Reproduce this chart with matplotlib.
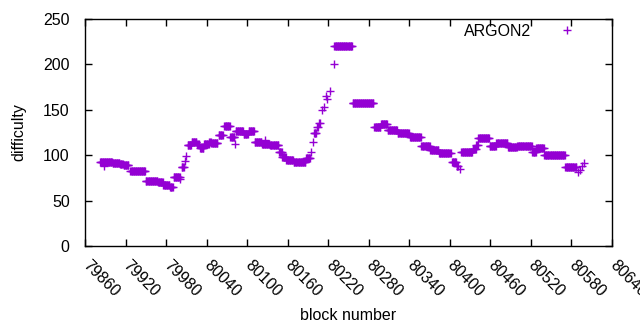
import numpy as np
import matplotlib
matplotlib.use("Agg")
import matplotlib.pyplot as plt

plt.rcParams['font.family'] = ['Liberation Sans', 'DejaVu Sans']
plt.rcParams['font.size'] = 11.5

# runs of blocks sharing one difficulty value
run_start = [79882, 79888, 79893, 79901, 79912, 79917, 79927, 79950, 79968, 79976,
             79986, 79991, 80001, 80003, 80008, 80010, 80012, 80018, 80026, 80030,
             80036, 80044, 80047, 80058, 80066, 80075, 80082, 80083, 80095, 80102,
             80111, 80122, 80126, 80134, 80147, 80152, 80158, 80169, 80182, 80187,
             80195, 80197, 80199, 80204, 80207, 80211, 80213, 80216, 80218, 80223,
             80228, 80229, 80256, 80288, 80298, 80308, 80323, 80341, 80358, 80371,
             80384, 80403, 80410, 80415, 80417, 80434, 80439, 80442, 80459, 80469,
             80486, 80500, 80522, 80528, 80540, 80571, 80590, 80592, 80595, 80598]
run_end = [79892, 79888, 79900, 79911, 79916, 79924, 79949, 79967, 79975, 79985,
           79990, 80000, 80001, 80006, 80008, 80010, 80017, 80025, 80028, 80035,
           80043, 80046, 80056, 80064, 80074, 80081, 80082, 80094, 80101, 80110,
           80121, 80133, 80126, 80146, 80151, 80157, 80168, 80181, 80186, 80193,
           80195, 80197, 80202, 80205, 80208, 80211, 80213, 80216, 80218, 80223,
           80228, 80255, 80287, 80297, 80307, 80322, 80339, 80357, 80370, 80383,
           80401, 80409, 80412, 80415, 80433, 80438, 80441, 80458, 80468, 80485,
           80499, 80521, 80527, 80539, 80570, 80587, 80590, 80592, 80595, 80598]
run_value = [92, 88, 93, 91, 90, 89, 83, 72, 70, 67,
             65, 76, 74, 87, 94, 99, 111, 115, 112, 108,
             112, 115, 113, 122, 132, 120, 112, 127, 123, 127,
             114, 112, 117, 111, 103, 98, 95, 92, 93, 97,
             104, 114, 124, 131, 135, 150, 153, 165, 162, 171,
             200, 220, 157, 131, 134, 128, 124, 120, 110, 106,
             102, 92, 88, 85, 104, 107, 111, 119, 110, 113,
             109, 110, 104, 108, 100, 87, 81, 84, 88, 91]

x_ticks = list(range(79860, 80641, 60))
y_ticks = [0, 50, 100, 150, 200, 250]

blocks = []
difficulty = []
for s, e, v in zip(run_start, run_end, run_value):
    for b in range(s, e + 1):
        blocks.append(b)
        difficulty.append(v)

fig = plt.figure(figsize=(6.4, 3.3), dpi=100)
ax = fig.add_axes([85 / 640, 1 - 246 / 330, 527 / 640, 227 / 330])

ax.plot(blocks, difficulty, linestyle='none', marker='+', color='#9400D3',
        markersize=5.5, markeredgewidth=1.0, label='ARGON2')

ax.set_xlim(79860, 80640)
ax.set_ylim(0, 250)
ax.set_xticks(x_ticks)
ax.set_yticks(y_ticks)
ax.set_xticklabels([str(t) for t in x_ticks], rotation=-45,
                   ha='left', va='center', rotation_mode='anchor')
ax.tick_params(direction='in', top=True, right=True, length=5, width=1)
ax.tick_params(axis='x', pad=12)
ax.tick_params(axis='y', pad=11)
for sp in ax.spines.values():
    sp.set_linewidth(1)
ax.set_xlabel('block number', labelpad=6)
ax.set_ylabel('difficulty', labelpad=12)
ax.legend(loc='center right', bbox_to_anchor=(0.960, 0.947), frameon=False,
          markerfirst=False, handlelength=3, handletextpad=0.75,
          borderpad=0, borderaxespad=0)

fig.savefig('out.png', dpi=100)
